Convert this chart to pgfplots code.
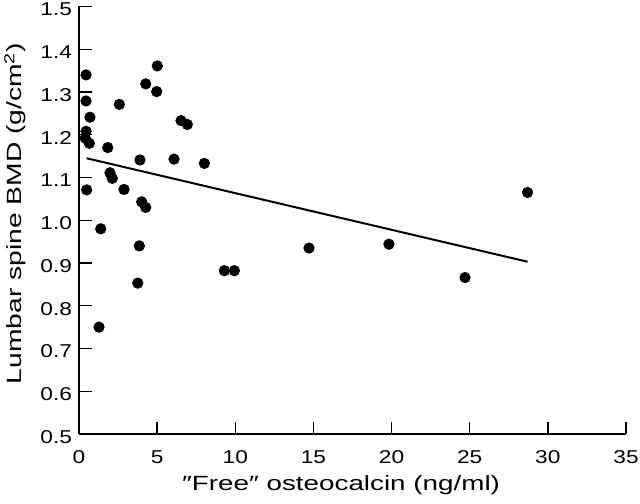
\documentclass[border=0pt]{standalone}
\usepackage{pgfplots}
\pgfplotsset{compat=1.18}
\usepackage{fontspec}
\setmainfont{Liberation Sans}
\newfontfamily\tickfont{Liberation Sans}[FakeStretch=1.22]
\newfontfamily\xlabfont{Liberation Sans}[FakeStretch=1.35]
\newfontfamily\ylabfont{Liberation Sans}[FakeStretch=1.37]
\begin{document}
\begin{tikzpicture}
\begin{axis}[
  scale only axis,
  width=273.5pt, height=213.75pt,
  xmin=0, xmax=35, ymin=0.5, ymax=1.5,
  axis x line=bottom, axis y line=left,
  axis line style={line width=0.7pt, -},
  xtick={0,5,...,35},
  ytick={0.5,0.6,...,1.51},
  tick align=inside,
  major tick length=6.25pt,
  tick style={line width=0.7pt, black},
  /pgf/number format/assume math mode=true,
  ticklabel style={font=\tickfont\fontsize{9.3pt}{11pt}\selectfont},
  xticklabel style={/pgf/number format/fixed, anchor=base, yshift=-14.75pt},
  yticklabel style={/pgf/number format/fixed, /pgf/number format/fixed zerofill,
     /pgf/number format/precision=1, anchor=east, yshift=-1.5pt},
  every axis x label/.style={at={(rel axis cs:0.479,0)}, yshift=-25.75pt, anchor=center,
     font=\xlabfont\fontsize{10.3pt}{12pt}\selectfont},
  every axis y label/.style={at={(rel axis cs:0,0.516)}, xshift=-32pt, rotate=90, anchor=center,
     font=\ylabfont\fontsize{10.3pt}{12pt}\selectfont},
  xlabel={″Free″ osteocalcin (ng/ml)},
  ylabel={Lumbar spine BMD (g/cm\textsuperscript{2})},
  clip=false,
]
\coordinate (O) at (rel axis cs:0,0);
\addplot[only marks, mark=*, mark size=2.6pt, black] coordinates {
(0.45,1.340) (0.45,1.279) (0.70,1.241) (0.45,1.208) (0.40,1.192)
(0.66,1.180) (0.49,1.071) (1.39,0.980) (1.84,1.170) (1.98,1.111)
(2.13,1.098) (2.58,1.271) (2.88,1.072) (3.90,1.141) (4.01,1.043)
(4.27,1.030) (4.27,1.319) (5.01,1.361) (4.97,1.301) (6.08,1.143)
(6.53,1.233) (6.93,1.224) (8.02,1.133) (3.86,0.940) (3.76,0.853)
(1.28,0.750) (9.30,0.882) (9.94,0.882) (14.72,0.935) (19.83,0.944)
(24.7,0.866) (28.7,1.065)
};
\addplot[black, line width=1pt] coordinates {(0.49,1.145) (28.7,0.903)};
\end{axis}
\pgfresetboundingbox
\path[use as bounding box] ([xshift=-39.5pt,yshift=-34.5pt]O) rectangle ([xshift=280.5pt,yshift=217pt]O);
\end{tikzpicture}
\end{document}
